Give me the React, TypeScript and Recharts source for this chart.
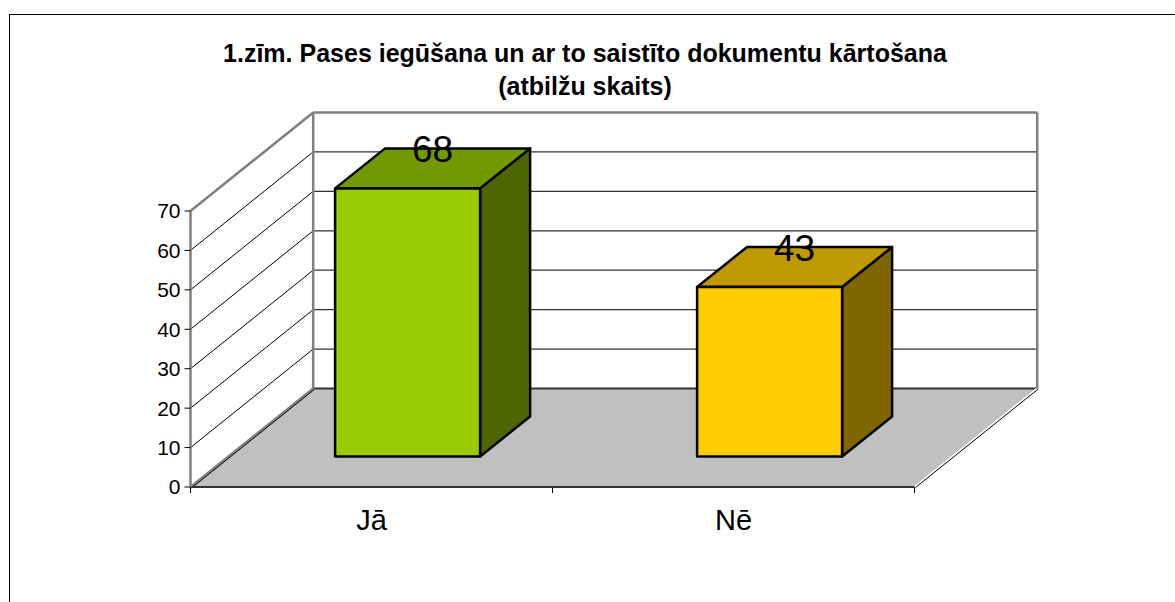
import React from 'react';
import { BarChart, Bar, XAxis, YAxis, ReferenceArea, LabelList } from 'recharts';

const categories = ['Jā', 'Nē'];
const values = [68, 43];
const yTicks = [0, 10, 20, 30, 40, 50, 60, 70];
const frontColors = ['#99CC00', '#FFCC00'];
const topColors = ['#739900', '#BF9900'];
const sideColors = ['#4D6600', '#806600'];
const titleLines = ['1.zīm. Pases iegūšana un ar to saistīto dokumentu kārtošana', '(atbilžu skaits)'];

const data = categories.map((c, i) => ({ name: c, value: values[i], idx: i }));

const FONT = '"Liberation Sans", Arial, sans-serif';
const DEPTH_X = 122.7;
const DEPTH_Y = -98.5;
const BAR_SHIFT_X = 36;
const BAR_SHIFT_Y = -30.5;
const BAR_DEPTH_X = 50;
const BAR_DEPTH_Y = -40;

const Frame = (props: any) => {
  const { x, y, width: w, height: h } = props;
  const yMax = yTicks[yTicks.length - 1];
  const bottom = y + h;
  const bx = x + DEPTH_X;
  const yAt = (v: number) => bottom - (v / yMax) * h;
  const n = categories.length;
  const inner = yTicks.filter((v) => v > 0 && v < yMax);
  return (
    <g>
      <polygon
        points={`${x},${bottom} ${x},${y} ${bx},${y + DEPTH_Y} ${bx},${bottom + DEPTH_Y}`}
        fill="#fff"
      />
      <rect x={bx} y={y + DEPTH_Y} width={w} height={h} fill="#fff" />
      {inner.map((v) => (
        <line key={'h' + v} x1={bx} x2={bx + w} y1={yAt(v) + DEPTH_Y} y2={yAt(v) + DEPTH_Y} stroke="#333" strokeWidth={1.2} />
      ))}
      {inner.map((v) => (
        <line key={'d' + v} x1={x} y1={yAt(v)} x2={bx} y2={yAt(v) + DEPTH_Y} stroke="#000" strokeWidth={1} />
      ))}
      <polygon
        points={`${x},${bottom} ${bx},${bottom + DEPTH_Y} ${bx + w},${bottom + DEPTH_Y} ${x + w},${bottom}`}
        fill="#C0C0C0"
      />
      <line x1={bx} x2={bx + w} y1={bottom + DEPTH_Y} y2={bottom + DEPTH_Y} stroke="#333" strokeWidth={2} />
      <line x1={x + w} y1={bottom} x2={bx + w} y2={bottom + DEPTH_Y} stroke="#fff" strokeWidth={2} />
      <line x1={x + w + 1} y1={bottom + 0.5} x2={bx + w + 1} y2={bottom + DEPTH_Y + 0.5} stroke="#000" strokeWidth={1} />
      <line x1={x} y1={bottom} x2={bx} y2={bottom + DEPTH_Y} stroke="#808080" strokeWidth={2.5} />
      <line x1={x + 1} y1={bottom + 1} x2={bx + 1} y2={bottom + DEPTH_Y + 1} stroke="#000" strokeWidth={1} />
      <line x1={x} y1={y} x2={bx} y2={y + DEPTH_Y} stroke="#808080" strokeWidth={2.5} />
      <line x1={bx} y1={y + DEPTH_Y} x2={bx + w} y2={y + DEPTH_Y} stroke="#808080" strokeWidth={2.5} />
      <line x1={bx} y1={y + DEPTH_Y} x2={bx} y2={bottom + DEPTH_Y} stroke="#808080" strokeWidth={2.5} />
      <line x1={bx + w} y1={y + DEPTH_Y} x2={bx + w} y2={bottom + DEPTH_Y} stroke="#808080" strokeWidth={2.5} />
      {Array.from({ length: n + 1 }, (_, i) => (
        <line key={'t' + i} x1={x + (i * w) / n} x2={x + (i * w) / n} y1={bottom} y2={bottom + 6} stroke="#000" strokeWidth={1} />
      ))}
    </g>
  );
};

const Bar3D = (props: any) => {
  const { x, y, width: w, height: h } = props;
  const i = props.payload?.idx ?? props.index ?? 0;
  const fx = x + BAR_SHIFT_X;
  const fy = y + BAR_SHIFT_Y;
  const top = `${fx},${fy} ${fx + BAR_DEPTH_X},${fy + BAR_DEPTH_Y} ${fx + w + BAR_DEPTH_X},${fy + BAR_DEPTH_Y} ${fx + w},${fy}`;
  const side = `${fx + w},${fy} ${fx + w + BAR_DEPTH_X},${fy + BAR_DEPTH_Y} ${fx + w + BAR_DEPTH_X},${fy + h + BAR_DEPTH_Y} ${fx + w},${fy + h}`;
  const sp = { stroke: '#000', strokeWidth: 2.5, strokeLinejoin: 'round' as const };
  return (
    <g>
      <polygon points={side} fill={sideColors[i]} {...sp} />
      <polygon points={top} fill={topColors[i]} {...sp} />
      <rect x={fx} y={fy} width={w} height={h} fill={frontColors[i]} {...sp} />
    </g>
  );
};

const renderLabel = (props: any) => {
  const { x, y, width, value } = props;
  return (
    <text
      x={x + BAR_SHIFT_X + width / 2 + BAR_DEPTH_X / 2}
      y={y + BAR_SHIFT_Y - 26}
      textAnchor="middle"
      fontSize={37}
      fontFamily={FONT}
      fill="#000"
    >
      {value}
    </text>
  );
};

export default function App() {
  return (
    <div style={{ position: 'absolute', left: 0, top: 0, width: 1175, height: 602, overflow: 'hidden', background: '#fff' }}>
      <div
        style={{
          position: 'absolute',
          left: 9,
          top: 14,
          width: 1300,
          height: 800,
          border: '1.5px solid #000',
          boxSizing: 'border-box',
        }}
      />
      <div style={{ position: 'absolute', left: 0, top: 0 }}>
        <BarChart
          width={1175}
          height={602}
          data={data}
          margin={{ top: 211, right: 260.5, bottom: 75, left: 130.5 }}
          barCategoryGap="30%"
        >
          <ReferenceArea y1={0} y2={70} ifOverflow="visible" shape={(p: any) => <Frame {...p} />} />
          <XAxis
            dataKey="name"
            height={40}
            axisLine={{ stroke: '#333', strokeWidth: 2 }}
            tickLine={false}
            tickSize={6}
            tickMargin={16}
            tick={{ fill: '#000', fontSize: 29, fontFamily: FONT }}
          />
          <YAxis
            width={60}
            domain={[0, 70]}
            ticks={yTicks}
            interval={0}
            axisLine={{ stroke: '#808080', strokeWidth: 2.5 }}
            tickLine={{ stroke: '#000', strokeWidth: 1 }}
            tickSize={6}
            tickMargin={4}
            tick={{ fill: '#000', fontSize: 21, fontFamily: FONT }}
          />
          <Bar dataKey="value" isAnimationActive={false} shape={(p: any) => <Bar3D {...p} />}>
            <LabelList dataKey="value" content={renderLabel} />
          </Bar>
        </BarChart>
      </div>
      <svg width={1175} height={602} style={{ position: 'absolute', left: 0, top: 0, pointerEvents: 'none' }}>
        {titleLines.map((t, i) => (
          <text key={i} x={585} y={61.5 + i * 33.5} textAnchor="middle" fontSize={25} fontWeight="bold" fontFamily={FONT} fill="#000">
            {t}
          </text>
        ))}
      </svg>
    </div>
  );
}
